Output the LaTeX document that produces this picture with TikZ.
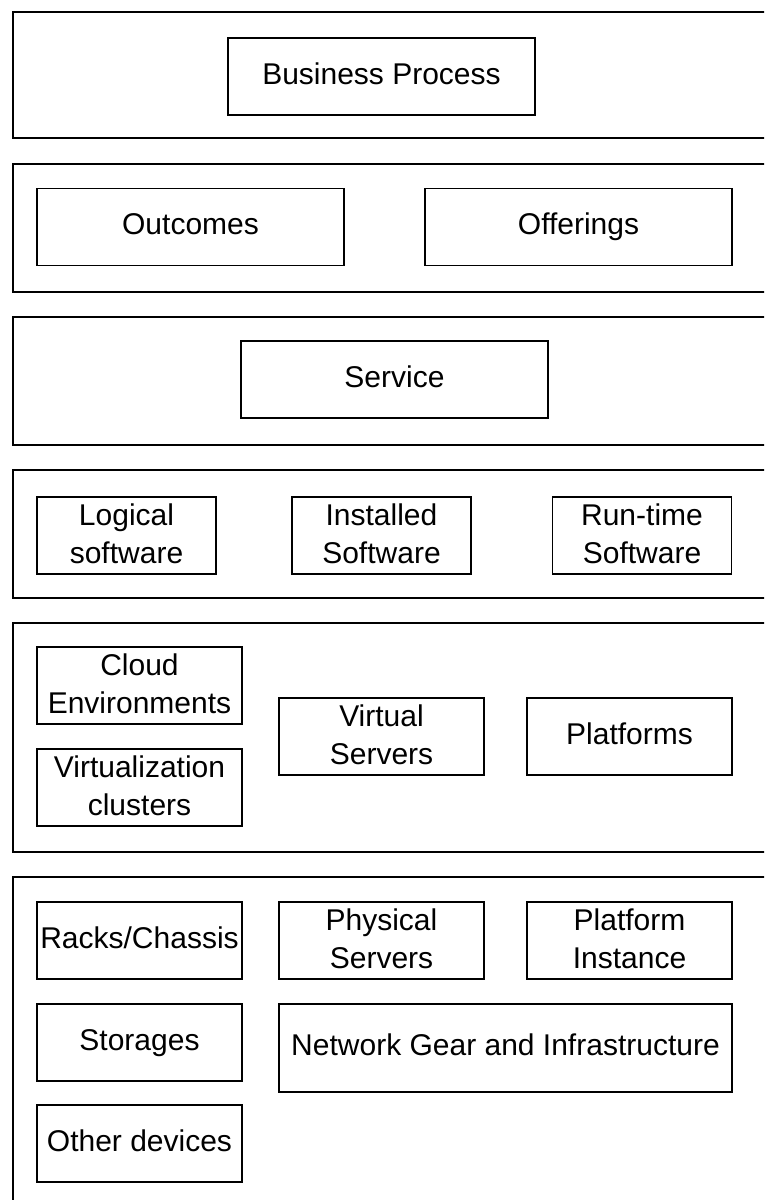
\documentclass[tikz,border=0pt]{standalone}
\usepackage{fontspec}
\setmainfont{Liberation Sans}
\begin{document}
\begin{tikzpicture}[x=1pt,y=-1pt,
  layer/.style={draw, line width=1.6pt, anchor=north west, inner sep=0pt},
  item/.style={draw, line width=1.6pt, align=center, inner sep=0pt,
    font=\fontsize{30}{38}\selectfont,
    execute at begin node=\strut, execute at end node=\strut},
  twoline/.style={text depth=4pt},
  wide/.style={item, minimum width=307pt, minimum height=77pt},
  narrow/.style={item, twoline, minimum width=179pt, minimum height=77pt},
  mid/.style={item, minimum width=205pt, minimum height=77pt}]
\useasboundingbox (0,0) rectangle (764,1200);
\clip (0,0) rectangle (764,1200);
\fill[white] (0,0) rectangle (764,1200);

% stacked layers, running off the right edge
\node[layer, minimum width=800pt, minimum height=126pt] (L1) at (12,11) {};
\node[layer, minimum width=800pt, minimum height=128pt] (L2) at (12,163) {};
\node[layer, minimum width=800pt, minimum height=128pt] (L3) at (12,316) {};
\node[layer, minimum width=800pt, minimum height=128pt] (L4) at (12,469) {};
\node[layer, minimum width=800pt, minimum height=229pt] (L5) at (12,622) {};
\node[layer, minimum width=800pt, minimum height=400pt] (L6) at (12,876) {};

% business layer
\node[wide] (bp) at (381.5,76.5) {Business Process};

% outcomes and offerings
\node[wide] (out) at (190.5,227) {Outcomes};
\node[wide] (off) at (578.5,227) {Offerings};

% service
\node[wide] (svc) at (394.5,379.5) {Service};

% software
\node[narrow] (lsw) at (126.5,535.5) {Logical\\software};
\node[narrow] (isw) at (381.5,535.5) {Installed\\Software};
\node[narrow] (rsw) at (642,535.5) {Run-time\\Software};

% virtual infrastructure
\node[mid, twoline] (cloud) at (139.5,685.5) {Cloud\\Environments};
\node[mid, twoline] (vclu) at (139.5,787.5) {Virtualization\\clusters};
\node[mid, twoline] (vsrv) at (381.5,736.5) {Virtual\\Servers};
\node[mid] (plat) at (629.5,736.5) {Platforms};

% physical infrastructure
\node[mid] (rack) at (139.5,940.5) {Racks/Chassis};
\node[mid, twoline] (psrv) at (381.5,940.5) {Physical\\Servers};
\node[mid, twoline] (pins) at (629.5,940.5) {Platform\\Instance};
\node[mid] (stor) at (139.5,1042.5) {Storages};
\node[item, minimum width=453pt, minimum height=88pt] (net) at (505.5,1048) {Network Gear and Infrastructure};
\node[mid] (oth) at (139.5,1143.5) {Other devices};
\end{tikzpicture}
\end{document}
